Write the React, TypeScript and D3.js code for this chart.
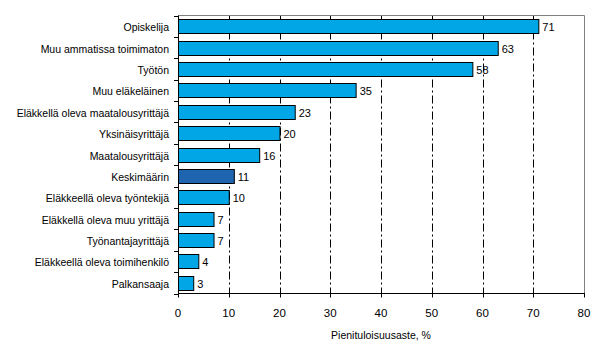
import React from "react";
import * as d3 from "d3";

const categories = [
  "Opiskelija",
  "Muu ammatissa toimimaton",
  "Työtön",
  "Muu eläkeläinen",
  "Eläkkellä oleva maatalousyrittäjä",
  "Yksinäisyrittäjä",
  "Maatalousyrittäjä",
  "Keskimäärin",
  "Eläkkeellä oleva työntekijä",
  "Eläkkellä oleva muu yrittäjä",
  "Työnantajayrittäjä",
  "Eläkkeellä oleva toimihenkilö",
  "Palkansaaja",
];
const values = [71, 63, 58, 35, 23, 20, 16, 11, 10, 7, 7, 4, 3];
const xTicks = [0, 10, 20, 30, 40, 50, 60, 70, 80];
const highlight = "Keskimäärin";
const axisTitle = "Pienituloisuusaste, %";

export default function App() {
  const W = 608, H = 362;
  const left = 178, right = 584, top = 15.5, bottom = 293.5;
  const x = d3.scaleLinear().domain([0, 80]).range([left, right]);
  const y = d3.scaleBand<string>().domain(categories).range([top, bottom]).paddingInner(0.35).paddingOuter(0.175);
  const step = y.step();
  const font = "Liberation Sans, Arial, sans-serif";
  return (
    <svg width={W} height={H} style={{ position: "absolute", left: 0, top: 0 }}>
      <rect x={0} y={0} width={W} height={H} fill="#fff" />
      {xTicks.slice(1, -1).map((t) => (
        <line key={"g" + t} x1={Math.round(x(t)) + 0.5} x2={Math.round(x(t)) + 0.5} y1={top} y2={bottom}
          stroke="#000" strokeWidth={1} strokeDasharray="8,3,2,3" />
      ))}
      <line x1={left} x2={right + 0.5} y1={top} y2={top} stroke="#808080" />
      <line x1={right + 0.5} x2={right + 0.5} y1={top} y2={bottom} stroke="#808080" />
      {categories.map((c, i) => {
        const v = values[i];
        const y0 = Math.round(y(c)!) + 0.5;
        const h = Math.round(y.bandwidth());
        return (
          <g key={c}>
            <rect x={x(0) + 0.5} y={y0} width={x(v) - x(0)} height={h}
              fill={c === highlight ? "#1F64AE" : "#00A6E6"} stroke="#000" strokeWidth={1} />
            <text x={x(v) + 4} y={y0 + h / 2} dominantBaseline="central" fontSize={11} fontFamily={font} fill="#000">{v}</text>
            <text x={169} y={y0 + h / 2} dominantBaseline="central" textAnchor="end" fontSize={10.5} fontFamily={font} fill="#000">{c}</text>
          </g>
        );
      })}
      {d3.range(categories.length + 1).map((i) => {
        const yy = Math.round(top + i * step) + 0.5;
        return <line key={"yt" + i} x1={left - 4} x2={left} y1={yy} y2={yy} stroke="#000" />;
      })}
      <line x1={left + 0.5} x2={left + 0.5} y1={top} y2={bottom} stroke="#000" />
      <line x1={left} x2={right + 1} y1={bottom} y2={bottom} stroke="#000" />
      {xTicks.map((t) => (
        <g key={"xt" + t}>
          <line x1={Math.round(x(t)) + 0.5} x2={Math.round(x(t)) + 0.5} y1={bottom} y2={bottom + 4} stroke="#000" />
          <text x={x(t)} y={313} textAnchor="middle" dominantBaseline="central" fontSize={11.5} fontFamily={font} fill="#000">{t}</text>
        </g>
      ))}
      <text x={(left + right) / 2} y={335} textAnchor="middle" dominantBaseline="central" fontSize={10.5} fontFamily={font} fill="#000">{axisTitle}</text>
    </svg>
  );
}
